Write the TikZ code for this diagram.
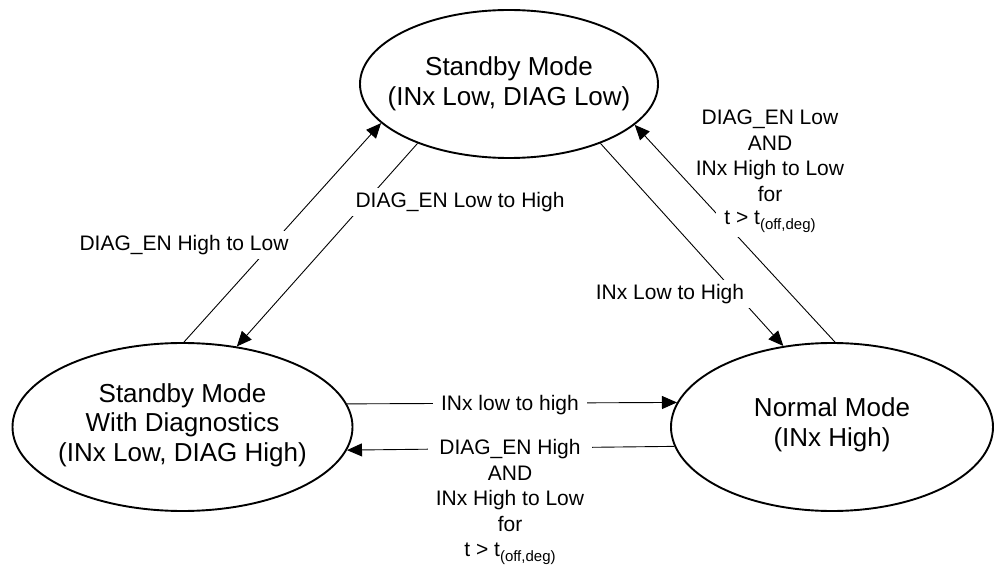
\documentclass[tikz,border=0pt]{standalone}
\usepackage{fontspec}
\setmainfont{Liberation Sans}
\usetikzlibrary{shapes.geometric,arrows.meta}
\newcommand{\toffdeg}{t > t\raisebox{-5pt}{\fontsize{15}{15}\selectfont (off,deg)}}
\begin{document}
\begin{tikzpicture}[x=1pt,y=-1pt,
  state/.style={ellipse, draw, line width=1.9pt, inner sep=0pt},
  stxt/.style={font=\fontsize{26}{29.5}\selectfont, align=center, inner sep=0pt},
  labtxt/.style={font=\fontsize{21}{25.5}\selectfont, align=center, inner sep=0pt},
  lab/.style={labtxt, fill=white, inner xsep=8pt, inner ysep=4pt},
  conn/.style={line width=0.9pt, -{Triangle[length=15pt,width=13pt]}}]
\useasboundingbox (0,0) rectangle (994,567);
% states
\node[state, minimum width=298pt, minimum height=148pt] (T) at (509,84) {};
\node[state, minimum width=340pt, minimum height=168pt] (L) at (182.5,427) {};
\node[state, minimum width=322pt, minimum height=168pt] (R) at (832,427) {};
\node[stxt] (Tt) at (509,84) {Standby Mode\\(INx Low, DIAG Low)};
\node[stxt] (Lt) at (182.5,425) {Standby Mode\\With Diagnostics\\(INx Low, DIAG High)};
\node[stxt] (Rt) at (832,425) {Normal Mode\\(INx High)};
% connectors
\draw[conn] (L.89.3) -- (T.197.3);
\draw[conn] (T.213) -- (L.56.8);
\draw[conn] (T.327.6) -- (R.121.4);
\draw[conn] (R.88) -- (T.342.9);
\draw[conn] (L.8.01) -- (R.171.6);
\draw[conn] (R.187.62) -- (L.352.73);
% labels
\node[lab] (l1) at (184,245) {DIAG\_EN High to Low};
\node[lab] (l2) at (460,202) {DIAG\_EN Low to High};
\node[lab] (l3) at (670,294) {INx Low to High};
\node[labtxt] (l4) at (770,156) {DIAG\_EN Low\\AND\\INx High to Low\\for};
\node[lab] (l4b) at (770,222) {\toffdeg};
\node[lab] (l5) at (510,405) {INx low to high};
\node[lab] (l6) at (510,502) {DIAG\_EN High\\AND\\INx High to Low\\for\\\toffdeg};
\end{tikzpicture}
\end{document}
